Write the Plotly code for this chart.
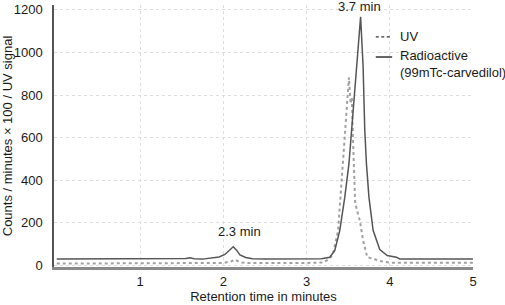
import plotly.graph_objects as go

# Radioactive (99mTc-carvedilol) trace
radio_t = [0.0, 1.15, 1.5, 1.55, 1.6, 1.65, 1.75, 1.85, 1.95, 2.02, 2.08, 2.12, 2.16, 2.2, 2.27, 2.35,
           2.5, 3.0, 3.18, 3.28, 3.34, 3.40, 3.46, 3.51, 3.54, 3.56, 3.60, 3.65, 3.68, 3.70, 3.72,
           3.75, 3.80, 3.88, 3.97, 4.08, 4.12, 5.0]
radio_v = [30, 30, 30, 33, 36, 32, 30, 36, 40, 52, 72, 88, 72, 50, 38, 32,
           30, 30, 32, 39, 71, 165, 321, 478, 635, 729, 933, 1168, 933, 635, 478,
           321, 165, 75, 47, 39, 31, 31]

# UV trace
uv_t = [0.0, 1.15, 1.2, 2.0, 2.1, 2.14, 2.2, 2.3, 3.0, 3.2, 3.28, 3.32, 3.38, 3.41, 3.44, 3.47,
        3.51, 3.53, 3.545, 3.555, 3.575, 3.585, 3.64, 3.68, 3.73, 3.8, 3.9, 4.0, 5.0]
uv_v = [9, 9, 12, 12, 20, 28, 15, 12, 12, 14, 33, 56, 165, 321, 478, 635,
        883, 760, 790, 635, 400, 292, 212, 118, 39, 30, 20, 13, 13]

x_ticks = [1, 2, 3, 4, 5]
y_ticks = [0, 200, 400, 600, 800, 1000, 1200]

FONT = "Liberation Sans, Arial, sans-serif"
TXT = "#1a1a1a"

fig = go.Figure()
fig.add_trace(go.Scatter(x=uv_t, y=uv_v, mode="lines", name="UV",
                         line=dict(color="#a0a0a0", width=2, dash="dot")))
fig.add_trace(go.Scatter(x=radio_t, y=radio_v, mode="lines", name="Radioactive (99mTc-carvedilol)",
                         line=dict(color="#555555", width=1.5)))

fig.update_layout(
    width=505, height=305,
    margin=dict(l=54, r=32, t=5, b=38),
    paper_bgcolor="white", plot_bgcolor="white",
    showlegend=False,
    font=dict(family=FONT, size=13, color=TXT),
)
fig.update_xaxes(
    range=[-0.033, 5.0], tickvals=x_ticks, ticks="", automargin=False,
    showgrid=True, gridcolor="#dddddd", griddash="dot", gridwidth=1,
    showline=True, linecolor="#8a8a8a", linewidth=2.5,
    zeroline=False, ticklabelstandoff=1,
    title=dict(text="Retention time in minutes", font=dict(size=13, color=TXT), standoff=4),
)
fig.update_yaxes(
    range=[-7, 1223], tickvals=y_ticks, ticks="", automargin=False,
    showgrid=True, gridcolor="#dddddd", griddash="dot", gridwidth=1,
    showline=True, linecolor="#555555", linewidth=1.5,
    zeroline=False, ticklabelstandoff=7,
    title=dict(text="Counts / minutes × 100 / UV signal", font=dict(size=13, color=TXT), standoff=6),
)

# peak labels
fig.add_annotation(x=3.64, y=1214, text="3.7 min", showarrow=False, xanchor="center", yanchor="middle",
                   font=dict(size=13, color=TXT))
fig.add_annotation(x=2.2, y=160, text="2.3 min", showarrow=False, xanchor="center", yanchor="middle",
                   font=dict(size=13, color=TXT))

# manual legend
fig.add_shape(type="line", xref="paper", yref="paper", x0=0.768, x1=0.807, y0=0.878, y1=0.878,
              line=dict(color="#333333", width=1.2, dash="3px,2.5px"))
fig.add_shape(type="line", xref="paper", yref="paper", x0=0.768, x1=0.807, y0=0.8015, y1=0.8015,
              line=dict(color="#333333", width=1.5))
fig.add_annotation(xref="paper", yref="paper", x=0.821, y=0.878, text="UV", showarrow=False,
                   xanchor="left", yanchor="middle", font=dict(size=13, color=TXT))
fig.add_annotation(xref="paper", yref="paper", x=0.821, y=0.809, text="Radioactive", showarrow=False,
                   xanchor="left", yanchor="middle", font=dict(size=13, color=TXT))
fig.add_annotation(xref="paper", yref="paper", x=0.821, y=0.744, text="(99mTc-carvedilol)", showarrow=False,
                   xanchor="left", yanchor="middle", font=dict(size=13, color=TXT))

fig.write_html("out.html", config={"displayModeBar": False},
               post_script="document.body.style.margin='0';document.body.style.overflow='hidden';")
